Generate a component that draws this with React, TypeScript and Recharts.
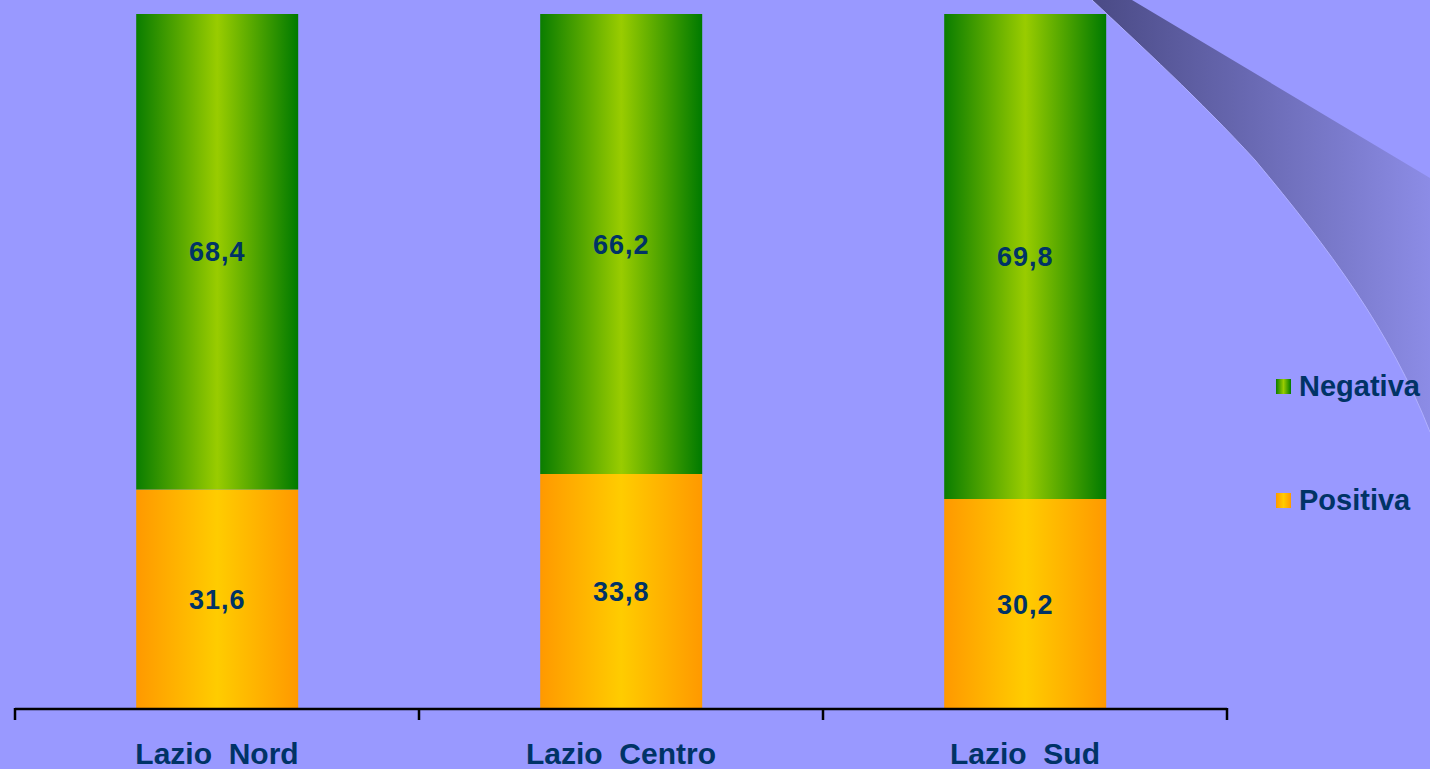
import React from 'react';
import { BarChart, Bar, XAxis, YAxis, Legend, LabelList, Customized } from 'recharts';

const categories = ['Lazio  Nord', 'Lazio  Centro', 'Lazio  Sud'];
const positiva = [31.6, 33.8, 30.2];
const negativa = [68.4, 66.2, 69.8];
const legendOrder = ['Negativa', 'Positiva'];

const data = categories.map((name, i) => ({
  name,
  Positiva: positiva[i],
  Negativa: negativa[i],
}));

const W = 1430;
const H = 769;
// x axis takes 30px on top of the bottom margin
const margin = { top: 14, right: 203, left: 15, bottom: 30 };
const bandWidth = (W - margin.left - margin.right) / categories.length;
const navy = '#003366';
const font = '"Liberation Sans", Arial, sans-serif';

const fmt = (v: number) => v.toFixed(1).replace('.', ',');

function CategoryTick(props: any) {
  const { x, y, payload, index } = props;
  const half = bandWidth / 2;
  return (
    <g>
      <line x1={x - half} y1={y - 9} x2={x - half} y2={y + 3} stroke="#000" strokeWidth={2.5} />
      {index === categories.length - 1 && (
        <line x1={x + half} y1={y - 9} x2={x + half} y2={y + 3} stroke="#000" strokeWidth={2.5} />
      )}
      <text
        x={x}
        y={y + 47}
        textAnchor="middle"
        fill={navy}
        fontFamily={font}
        fontWeight={700}
        fontSize={30}
        style={{ whiteSpace: 'pre' }}
      >
        {payload.value}
      </text>
    </g>
  );
}

function LegendBox() {
  return (
    <div style={{ fontFamily: font }}>
      {legendOrder.map((name, i) => (
        <div key={name} style={{ display: 'flex', alignItems: 'center', height: 30, marginBottom: i === 0 ? 84 : 0 }}>
          <svg width={15} height={15} style={{ marginRight: 8 }}>
            <rect width={15} height={15} fill={`url(#${name === 'Negativa' ? 'gGreen' : 'gOrange'})`} />
          </svg>
          <span style={{ color: navy, fontWeight: 700, fontSize: 29 }}>{name}</span>
        </div>
      ))}
    </div>
  );
}

function Swoosh() {
  return (
    <g>
      <defs>
        <linearGradient id="gSwoosh" x1="0" y1="0" x2="1" y2="0">
          <stop offset="0%" stopColor="#4a4a85" />
          <stop offset="100%" stopColor="#8c8ce6" />
        </linearGradient>
      </defs>
      <path
        d="M1092,0 L1132,0 L1430,178 L1430,432 C1390,330 1330,250 1255,160 C1200,100 1140,45 1092,0 Z"
        fill="url(#gSwoosh)"
      />
      <path d="M1430,432 C1390,330 1330,250 1255,160 C1200,100 1140,45 1092,0" fill="none" stroke="#b0b0ff" strokeWidth={1} />
    </g>
  );
}

const labelStyle = { fill: navy, fontFamily: font, fontWeight: 700, fontSize: 27, letterSpacing: 1 };

export default function App() {
  return (
    <div style={{ position: 'fixed', left: 0, top: 0, width: W, height: H, background: '#9999ff' }}>
      <BarChart width={W} height={H} data={data} margin={margin} barCategoryGap="30%">
        <defs>
          <linearGradient id="gGreen" x1="0" y1="0" x2="1" y2="0">
            <stop offset="0%" stopColor="#0a7d00" />
            <stop offset="50%" stopColor="#99cc00" />
            <stop offset="100%" stopColor="#007a00" />
          </linearGradient>
          <linearGradient id="gOrange" x1="0" y1="0" x2="1" y2="0">
            <stop offset="0%" stopColor="#ff9900" />
            <stop offset="50%" stopColor="#ffcc00" />
            <stop offset="100%" stopColor="#ff9900" />
          </linearGradient>
        </defs>
        <Customized component={Swoosh} />
        <YAxis hide domain={[0, 100]} />
        <XAxis
          dataKey="name"
          height={30}
          axisLine={{ stroke: '#000', strokeWidth: 2.5 }}
          tickLine={false}
          tick={<CategoryTick />}
          interval={0}
        />
        <Legend
          layout="vertical"
          align="center"
          verticalAlign="middle"
          content={<LegendBox />}
          wrapperStyle={{ position: 'absolute', left: 1276, top: 371, width: 160 }}
        />
        <Bar dataKey="Positiva" stackId="a" fill="url(#gOrange)" isAnimationActive={false}>
          <LabelList dataKey="Positiva" position="center" formatter={(v: any) => fmt(Number(v))} style={labelStyle} />
        </Bar>
        <Bar dataKey="Negativa" stackId="a" fill="url(#gGreen)" isAnimationActive={false}>
          <LabelList dataKey="Negativa" position="center" formatter={(v: any) => fmt(Number(v))} style={labelStyle} />
        </Bar>
      </BarChart>
    </div>
  );
}
